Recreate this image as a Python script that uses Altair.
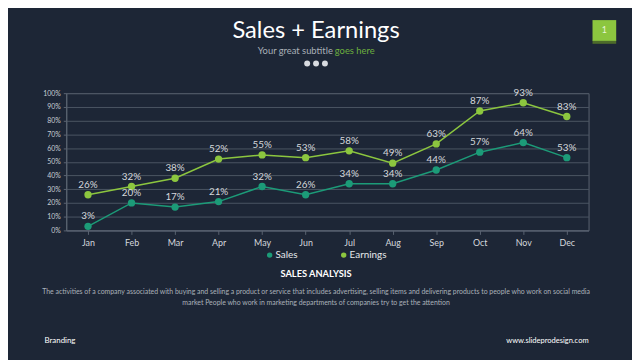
import altair as alt
import pandas as pd

months = ["Jan", "Feb", "Mar", "Apr", "May", "Jun", "Jul", "Aug", "Sep", "Oct", "Nov", "Dec"]
sales = [3, 20, 17, 21, 32, 26, 34, 34, 44, 57, 64, 53]
earnings = [26, 32, 38, 52, 55, 53, 58, 49, 63, 87, 93, 83]
series_names = ["Sales", "Earnings"]
series_colors = ["#1c9b78", "#8cc63f"]
y_ticks = [0, 0.1, 0.2, 0.3, 0.4, 0.5, 0.6, 0.7, 0.8, 0.9, 1.0]

rows = []
for m, s, e in zip(months, sales, earnings):
    rows.append({"month": m, "series": "Sales", "value": s / 100, "label": f"{s}%"})
    rows.append({"month": m, "series": "Earnings", "value": e / 100, "label": f"{e}%"})
df = pd.DataFrame(rows)

BG = "#1d2636"
FONT = "Lato"
W, H = 529, 139
PL, PT = 59, 84

x_enc = alt.X("month:N", sort=months, scale=alt.Scale(paddingInner=0, paddingOuter=0),
              axis=alt.Axis(title=None, labelAngle=0, labelColor="#d4d8dd", labelFontSize=9,
                            labelFont=FONT, labelPadding=4, domainColor="#5a6472",
                            tickColor="#5a6472", tickSize=4, bandPosition=0, grid=False))
y_enc = alt.Y("value:Q", scale=alt.Scale(domain=[0, 1], nice=False),
              axis=alt.Axis(title=None, values=y_ticks, format=".0%", labelColor="#c8ccd2",
                            labelFontSize=7, labelFont=FONT, labelPadding=3,
                            gridColor="#4b5563", domainColor="#5a6472", tickColor="#5a6472",
                            tickSize=3))
color_enc = alt.Color("series:N", scale=alt.Scale(domain=series_names, range=series_colors),
                      sort=series_names,
                      legend=alt.Legend(title=None, orient="none", direction="horizontal",
                                        legendX=201, legendY=159, labelColor="#e6e8eb",
                                        labelFontSize=10, labelFont=FONT, symbolType="circle",
                                        symbolSize=30, symbolStrokeWidth=0, labelOffset=1,
                                        columnPadding=41, padding=0, symbolOpacity=1))

base = alt.Chart(df)
lines = base.mark_line(strokeWidth=1.5).encode(x=x_enc, y=y_enc, color=color_enc)
points = base.mark_point(filled=True, size=55, opacity=1).encode(x=x_enc, y=y_enc, color=color_enc)
labels = base.mark_text(dy=-10, fontSize=10, font=FONT, color="#d5d8dc").encode(
    x=x_enc, y=y_enc, text="label:N")

def txt(text, x, y, size, color, weight="normal", align="center"):
    return alt.Chart(pd.DataFrame({"t": [text]})).mark_text(
        fontSize=size, font=FONT, color=color, fontWeight=weight, align=align, baseline="middle"
    ).encode(x=alt.value(x), y=alt.value(y), text="t:N")

ox, oy = 67, 92  # screen coords of plot origin
title = txt("Sales + Earnings", 320 - ox, 29 - oy, 24, "#ffffff")
sub1 = txt("Your great subtitle", 337 - ox, 49 - oy, 9.5, "#a9b0b8", align="right")
sub2 = txt("goes here", 339 - ox, 49 - oy, 9.5, "#6cae3e", align="left")
dots = alt.Chart(pd.DataFrame({"x": [311 - ox, 320 - ox, 329 - ox]})).mark_circle(
    size=36, color="#d8dbe0", opacity=1).encode(x=alt.X("x:Q", scale=None), y=alt.value(62 - oy))
box_shadow = alt.Chart(pd.DataFrame({"a": [0]})).mark_rect(color="#4d6b2a").encode(
    x=alt.value(600 - ox), x2=alt.value(624 - ox), y=alt.value(38 - oy), y2=alt.value(42 - oy))
box = alt.Chart(pd.DataFrame({"a": [0]})).mark_rect(color="#8cc63f").encode(
    x=alt.value(600 - ox), x2=alt.value(624 - ox), y=alt.value(18 - oy), y2=alt.value(39 - oy))
box_txt = txt("1", 612 - ox, 28 - oy, 9, "#e8f5d8")
head = txt("SALES ANALYSIS", 320 - ox, 275 - oy, 9.4, "#ffffff", weight="bold")
para1 = txt("The activities of a company associated with buying and selling a product or service that includes advertising, selling items and delivering products to people who work on social media",
            320 - ox, 293 - oy, 7.0, "#aab1b9")
para2 = txt("market People who work in marketing departments of companies try to get the attention",
            320 - ox, 305 - oy, 7.0, "#aab1b9")
brand = txt("Branding", 45 - ox, 343 - oy, 8, "#ffffff", align="left")
site = txt("www.slideprodesign.com", 596 - ox, 343 - oy, 7.6, "#ffffff", align="right")

chart = alt.layer(
    lines, points, labels, title, sub1, sub2, dots, box_shadow, box, box_txt,
    head, para1, para2, brand, site
).properties(
    width=W, height=H,
    autosize=alt.AutoSizeParams(type="none"),
    padding={"left": PL, "top": PT, "right": 632 - PL - W, "bottom": 352 - PT - H},
    background=BG,
).configure_view(stroke="#5a6472", strokeWidth=1)

chart.save("out.html", embed_options={"renderer": "svg", "actions": False})
